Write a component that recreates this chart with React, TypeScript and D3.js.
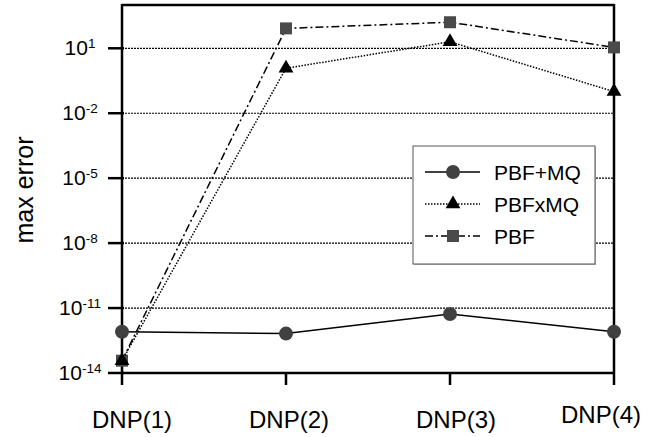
import * as d3 from 'd3';

const categories = ['DNP(1)', 'DNP(2)', 'DNP(3)', 'DNP(4)'];
const pbfPlusMq = [8e-13, 6.6e-13, 5.3e-12, 8e-13];
const pbfTimesMq = [3.7e-14, 1.2, 20, 0.1];
const pbf = [3.7e-14, 83, 160, 11];
const yTickExps = [1, -2, -5, -8, -11, -14];
const gridExps = [1, -2, -5, -8, -11];

// label nudges, the original has the category labels placed by hand
const labelDx = [10, 3, 6, -13];
const labelDy = [0, 0, 0, -5];

const W = 659;
const H = 437;
const FONT = '"Liberation Sans", Arial, sans-serif';

export default function App() {
  const x = d3.scalePoint<string>().domain(categories).range([122, 614]);
  const y = d3.scaleLog().domain([1e-14, 1e3]).range([373, 5]);

  const line = d3
    .line<number>()
    .x((_, i) => x(categories[i]) as number)
    .y((d) => y(d));

  const tri = d3.symbol().type(d3.symbolTriangle).size(95)() as string;
  const sq = d3.symbol().type(d3.symbolSquare).size(144)() as string;

  const series = [
    { name: 'PBF', values: pbf, dash: '8,3,2,3', marker: sq, fill: '#4a4a4a' },
    { name: 'PBFxMQ', values: pbfTimesMq, dash: '1.5,1.5', marker: tri, fill: '#000' },
    { name: 'PBF+MQ', values: pbfPlusMq, dash: null, marker: null, fill: '#404040' },
  ];
  const legendOrder = ['PBF+MQ', 'PBFxMQ', 'PBF'];

  const [x0, x1] = x.range();
  const [yb, yt] = y.range();

  return (
    <svg
      width={W}
      height={H}
      style={{ position: 'absolute', left: 0, top: 0, background: '#fff' }}
      fontFamily={FONT}
    >
      {/* grid */}
      {gridExps.map((e) => (
        <line
          key={e}
          x1={x0}
          x2={x1}
          y1={y(Math.pow(10, e))}
          y2={y(Math.pow(10, e))}
          stroke="#000"
          strokeWidth={1.2}
          strokeDasharray="2,1"
        />
      ))}

      {/* frame */}
      <line x1={x0} x2={x1} y1={yt} y2={yt} stroke="#000" strokeWidth={2.5} />
      <line x1={x1} x2={x1} y1={yt - 1} y2={yb} stroke="#000" strokeWidth={2.5} />
      <line x1={x0} x2={x0} y1={yt - 1} y2={yb + 1} stroke="#000" strokeWidth={2.5} />
      <line x1={x0 - 1} x2={x1 + 1} y1={yb} y2={yb} stroke="#000" strokeWidth={2.5} />

      {/* y ticks */}
      {yTickExps.map((e) => {
        const ty = y(Math.pow(10, e));
        return (
          <g key={e}>
            <line x1={108} x2={x0 + 2} y1={ty} y2={ty} stroke="#000" strokeWidth={2.5} />
            <text x={80} y={ty + 7} textAnchor="middle" fontSize={21} fill="#000">
              10
              <tspan fontSize={13.5} dy={-7.5}>
                {e}
              </tspan>
            </text>
          </g>
        );
      })}

      {/* x ticks */}
      {categories.map((c, i) => (
        <g key={c}>
          <line x1={x(c)} x2={x(c)} y1={yb} y2={yb + 12} stroke="#000" strokeWidth={2.5} />
          <text
            x={(x(c) as number) + labelDx[i]}
            y={428 + labelDy[i]}
            textAnchor="middle"
            fontSize={24}
            fill="#000"
          >
            {c}
          </text>
        </g>
      ))}

      {/* y label */}
      <text
        transform={`translate(33,190) rotate(-90)`}
        textAnchor="middle"
        fontSize={25}
        fill="#000"
      >
        max error
      </text>

      {/* series */}
      {series.map((s) => (
        <g key={s.name}>
          <path
            d={line(s.values) as string}
            fill="none"
            stroke="#000"
            strokeWidth={1.5}
            strokeDasharray={s.dash ?? undefined}
          />
          {s.values.map((v, i) =>
            s.marker ? (
              <path
                key={i}
                d={s.marker}
                transform={`translate(${x(categories[i])},${y(v)})`}
                fill={s.fill}
              />
            ) : (
              <circle key={i} cx={x(categories[i])} cy={y(v)} r={7} fill={s.fill} />
            )
          )}
        </g>
      ))}

      {/* legend */}
      <g>
        <rect x={414} y={147} width={182} height={118} fill="#bbb" />
        <rect x={413} y={146} width={182} height={118} fill="#fff" stroke="#555" strokeWidth={1} />
        {legendOrder.map((name, i) => {
          const s = series.find((d) => d.name === name)!;
          const ly = 172 + i * 32;
          return (
            <g key={name}>
              <line
                x1={425}
                x2={480}
                y1={ly}
                y2={ly}
                stroke="#000"
                strokeWidth={1.5}
                strokeDasharray={s.dash ?? undefined}
              />
              {s.marker ? (
                <path d={s.marker} transform={`translate(453,${ly})`} fill={s.fill} />
              ) : (
                <circle cx={453} cy={ly} r={7} fill={s.fill} />
              )}
              <text x={494} y={ly + 7.5} fontSize={21} fill="#000">
                {name}
              </text>
            </g>
          );
        })}
      </g>
    </svg>
  );
}
